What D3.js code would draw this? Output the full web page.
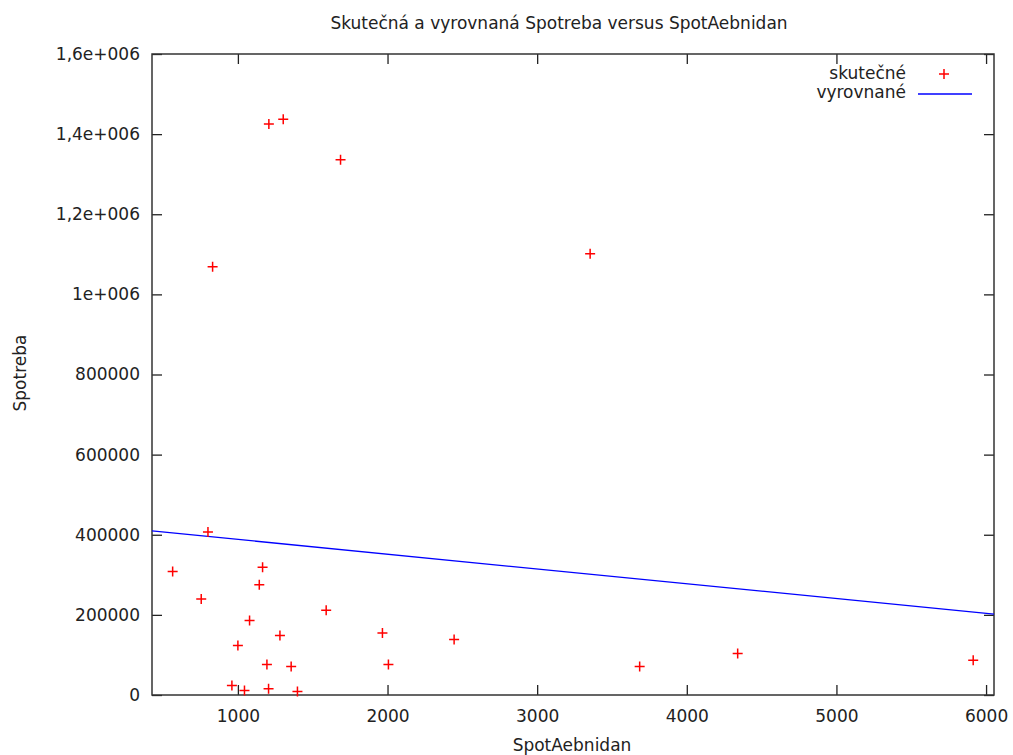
<!DOCTYPE html>
<html>
<head>
<meta charset="utf-8">
<script src="https://cdn.jsdelivr.net/npm/d3@7"></script>
<style>
  body { margin: 0; background: #fff; }
  text { font-family: "DejaVu Sans", Verdana, sans-serif; fill: #222; }
</style>
</head>
<body>
<svg id="chart" width="1013" height="755"></svg>
<script>
// values
let spotAebnidan = [800, 564, 1165, 1143, 755, 1590, 1078, 1966, 1281, 1000, 1194, 1356, 2006,
  960, 1044, 1205, 1398, 2445, 3685, 4340, 5914, 1207, 1303, 1686, 831, 3354];
let spotreba = [407000, 308000, 318750, 275500, 239500, 211250, 186250, 154500, 148750, 123750,
  76250, 71250, 76250, 23750, 11250, 15500, 8750, 138750, 71250, 103750, 87000, 1425500,
  1437000, 1336250, 1068750, 1101250];

// fitted line (end points at the plot edges)
let fitX = [426, 6053];
let fitY = [409500, 202000];

let xTicks = [1000, 2000, 3000, 4000, 5000, 6000];
let yTicks = [0, 200000, 400000, 600000, 800000, 1000000, 1200000, 1400000, 1600000];
let yTickLabels = ["0", "200000", "400000", "600000", "800000", "1e+006", "1,2e+006", "1,4e+006", "1,6e+006"];

let svg = d3.select("#chart");
let margin = {left: 152, right: 19, top: 54, bottom: 60};
let width = 1013 - margin.left - margin.right;
let height = 755 - margin.top - margin.bottom;
let fontSize = "17px";

let x = d3.scaleLinear().domain([fitX[0], fitX[1]]).range([0, width]);
let y = d3.scaleLinear().domain([0, 1600000]).range([height, 0]);

let g = svg.append("g").attr("transform", "translate(" + margin.left + "," + margin.top + ")");

// axes, gnuplot style: inward ticks, mirrored
let tickLen = 10;
let fmtY = function(d){ return yTickLabels[yTicks.indexOf(d)]; };

g.append("g").attr("class", "xaxis")
  .attr("transform", "translate(0," + height + ")")
  .call(d3.axisBottom(x).tickValues(xTicks).tickSizeInner(-tickLen).tickSizeOuter(0).tickPadding(14.5).tickFormat(d3.format("d")));
g.append("g").attr("class", "xaxis")
  .call(d3.axisTop(x).tickValues(xTicks).tickSizeInner(-tickLen).tickSizeOuter(0).tickFormat(""));
g.append("g").attr("class", "yaxis")
  .call(d3.axisLeft(y).tickValues(yTicks).tickSizeInner(-tickLen).tickSizeOuter(0).tickPadding(12).tickFormat(fmtY));
g.append("g").attr("class", "yaxis")
  .attr("transform", "translate(" + width + ",0)")
  .call(d3.axisRight(y).tickValues(yTicks).tickSizeInner(-tickLen).tickSizeOuter(0).tickFormat(""));

g.selectAll(".domain").remove();
g.selectAll(".tick line").attr("stroke", "#222").attr("stroke-width", 1.3);
g.selectAll(".tick text").style("font-size", fontSize).attr("fill", "#222");

g.append("rect")
  .attr("width", width).attr("height", height)
  .attr("fill", "none").attr("stroke", "#333").attr("stroke-width", 1.5);

// regression line
g.append("line")
  .attr("x1", x(fitX[0])).attr("y1", y(fitY[0]))
  .attr("x2", x(fitX[1])).attr("y2", y(fitY[1]))
  .attr("stroke", "#0000ff").attr("stroke-width", 1.3);

// points as +
let cross = function(sel, s){
  sel.append("path")
    .attr("d", "M" + (-s) + ",0H" + s + "M0," + (-s) + "V" + s)
    .attr("stroke", "#ff0000").attr("stroke-width", 1.5).attr("fill", "none");
};
let pts = d3.range(spotAebnidan.length).map(function(i){ return [spotAebnidan[i], spotreba[i]]; });
g.selectAll(".pt").data(pts).enter().append("g")
  .attr("class", "pt")
  .attr("transform", function(d){ return "translate(" + x(d[0]) + "," + y(d[1]) + ")"; })
  .each(function(){ cross(d3.select(this), 5); });

// legend
let leg = svg.append("g");
leg.append("text").attr("x", 906).attr("y", 79).attr("text-anchor", "end").style("font-size", fontSize).text("skutečné");
cross(leg.append("g").attr("transform", "translate(944,74)"), 5);
leg.append("text").attr("x", 906).attr("y", 98).attr("text-anchor", "end").style("font-size", fontSize).text("vyrovnané");
leg.append("line").attr("x1", 918).attr("x2", 972).attr("y1", 94).attr("y2", 94)
  .attr("stroke", "#0000ff").attr("stroke-width", 1.3);

// title and labels
svg.append("text").attr("x", 559).attr("y", 29).attr("text-anchor", "middle").style("font-size", fontSize)
  .text("Skutečná a vyrovnaná Spotreba versus SpotAebnidan");
svg.append("text").attr("x", 572).attr("y", 751).attr("text-anchor", "middle").style("font-size", fontSize)
  .text("SpotAebnidan");
svg.append("text").attr("transform", "translate(26,373) rotate(-90)").attr("text-anchor", "middle").style("font-size", fontSize)
  .text("Spotreba");
</script>
</body>
</html>
